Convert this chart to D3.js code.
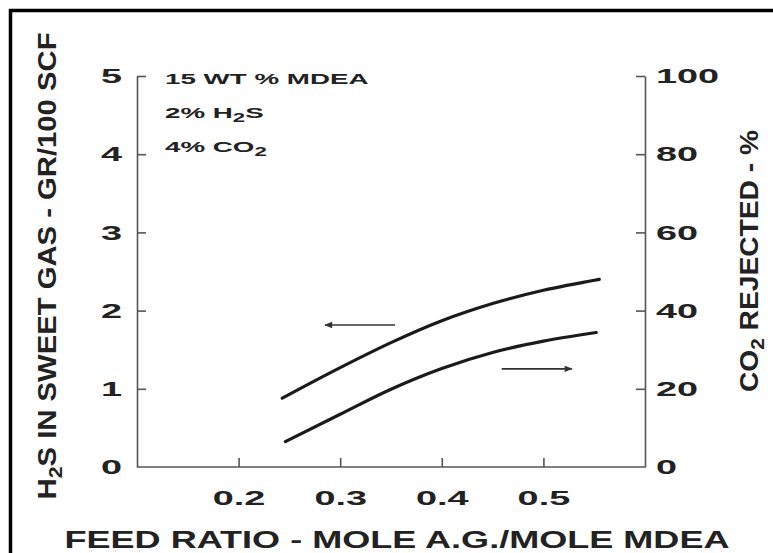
<!DOCTYPE html>
<meta charset="utf-8">
<style>

body {
  margin: 0;
  background: white;
}

text {
  font-family: "Liberation Sans", Arial, sans-serif;
  font-weight: bold;
  fill: #222;
}

.axis path,
.axis line {
  stroke: #555;
  stroke-width: 1.6px;
  fill: none;
}

.axis text {
  font-size: 21px;
}

.curve {
  fill: none;
  stroke: #1a1a1a;
  stroke-width: 3.2px;
  stroke-linecap: round;
}

.pointer {
  stroke: #333;
  stroke-width: 1.6px;
}

.frame {
  fill: none;
  stroke: #000;
  stroke-width: 3.5px;
}

</style>
<svg></svg>
<script src="https://d3js.org/d3.v7.min.js"></script>
<script>

var width = 773;
var height = 553;

// feed ratio, mole acid gas / mole MDEA
var h2sFeed = [0.243, 0.30, 0.35, 0.40, 0.45, 0.50, 0.555];
// H2S in sweet gas, gr/100 scf (left axis)
var h2sSweet = [0.88, 1.27, 1.59, 1.87, 2.09, 2.26, 2.40];

var co2Feed = [0.246, 0.30, 0.35, 0.40, 0.45, 0.50, 0.552];
// CO2 rejected, % (right axis)
var co2Rejected = [6.5, 13.5, 19.9, 25.2, 29.3, 32.2, 34.4];

var xTicks = [0.2, 0.3, 0.4, 0.5];
var leftTicks = [0, 1, 2, 3, 4, 5];
var rightTicks = [0, 20, 40, 60, 80, 100];

var notes = [
  ['15 WT % MDEA'],
  ['2% H', '2', 'S'],
  ['4% CO', '2']
];

var x = d3.scaleLinear().domain([0.1, 0.6]).range([137, 645]);
var yLeft = d3.scaleLinear().domain([0, 5]).range([467, 76]);
var yRight = d3.scaleLinear().domain([0, 100]).range([467, 76]);

var svg = d3.select('svg')
  .attr('width', width)
  .attr('height', height);

// widen text the way the scanned lettering looks
function stretch (sel, k) {
  sel.each(function () {
    var w = this.getComputedTextLength();
    d3.select(this).attr('textLength', w * k).attr('lengthAdjust', 'spacingAndGlyphs');
  });
}

svg.append('path')
  .attr('class', 'frame')
  .attr('d', 'M10.5,' + height + 'V10.5H' + width);

var gx = svg.append('g')
  .attr('class', 'axis')
  .attr('transform', 'translate(0,' + yLeft(0) + ')')
  .call(d3.axisBottom(x).tickValues(xTicks).tickSize(-9).tickSizeOuter(0).tickPadding(23)
    .tickFormat(d3.format('.1f')));

var gl = svg.append('g')
  .attr('class', 'axis')
  .attr('transform', 'translate(' + x.range()[0] + ',0)')
  .call(d3.axisLeft(yLeft).tickValues(leftTicks).tickSize(-9).tickSizeOuter(0).tickPadding(15)
    .tickFormat(d3.format('d')));

var gr = svg.append('g')
  .attr('class', 'axis')
  .attr('transform', 'translate(' + x.range()[1] + ',0)')
  .call(d3.axisRight(yRight).tickValues(rightTicks).tickSize(-9).tickSizeOuter(0).tickPadding(11)
    .tickFormat(d3.format('d')));

// no tick on the zero corner
gx.selectAll('.domain').attr('d', 'M' + x.range()[0] + ',0H' + x.range()[1]);
gl.selectAll('.tick').filter(function (d) { return d === 0; }).select('line').remove();
gr.selectAll('.tick').filter(function (d) { return d === 0; }).select('line').remove();

stretch(gx.selectAll('text'), 1.8);
stretch(gl.selectAll('text'), 1.8);
stretch(gr.selectAll('text'), 1.8);

var line1 = d3.line()
  .curve(d3.curveMonotoneX)
  .x(function (d, i) { return x(h2sFeed[i]); })
  .y(function (d) { return yLeft(d); });

var line2 = d3.line()
  .curve(d3.curveMonotoneX)
  .x(function (d, i) { return x(co2Feed[i]); })
  .y(function (d) { return yRight(d); });

svg.append('path').attr('class', 'curve').attr('d', line1(h2sSweet));
svg.append('path').attr('class', 'curve').attr('d', line2(co2Rejected));

// arrows telling which axis each curve reads on
svg.append('defs').append('marker')
  .attr('id', 'head')
  .attr('viewBox', '0 0 10 10')
  .attr('refX', 9).attr('refY', 5)
  .attr('markerWidth', 9).attr('markerHeight', 5)
  .attr('markerUnits', 'strokeWidth')
  .attr('orient', 'auto')
  .append('path')
  .attr('d', 'M0,1L10,5L0,9z')
  .attr('fill', '#333');

svg.append('line')
  .attr('class', 'pointer')
  .attr('x1', x(0.354)).attr('y1', yLeft(1.815))
  .attr('x2', x(0.285)).attr('y2', yLeft(1.815))
  .attr('marker-end', 'url(#head)');

svg.append('line')
  .attr('class', 'pointer')
  .attr('x1', x(0.459)).attr('y1', yRight(25.1))
  .attr('x2', x(0.528)).attr('y2', yRight(25.1))
  .attr('marker-end', 'url(#head)');

// conditions
var note = svg.append('g')
  .selectAll('text')
  .data(notes)
  .enter().append('text')
  .attr('x', 165)
  .attr('y', function (d, i) { return 84 + i * 34; })
  .style('font-size', '15px');

note.each(function (parts) {
  var t = d3.select(this);
  parts.forEach(function (p, j) {
    var s = t.append('tspan').text(p);
    if (j % 2 === 1) s.attr('dy', 4).style('font-size', '12px');
    else if (j > 0) s.attr('dy', -4);
  });
});
stretch(note, 1.85);

// axis titles
svg.append('text')
  .attr('x', 397)
  .attr('y', 548)
  .attr('text-anchor', 'middle')
  .attr('textLength', 665)
  .attr('lengthAdjust', 'spacingAndGlyphs')
  .style('font-size', '23px')
  .text('FEED RATIO - MOLE A.G./MOLE MDEA');

var lt = svg.append('text')
  .attr('transform', 'translate(56,266) rotate(-90)')
  .attr('text-anchor', 'middle')
  .attr('textLength', 467)
  .attr('lengthAdjust', 'spacingAndGlyphs')
  .style('font-size', '26px');
lt.append('tspan').text('H');
lt.append('tspan').attr('dy', 6).style('font-size', '19px').text('2');
lt.append('tspan').attr('dy', -6).text('S IN SWEET GAS - GR/100 SCF');

var rt = svg.append('text')
  .attr('transform', 'translate(758,261) rotate(-90)')
  .attr('text-anchor', 'middle')
  .attr('textLength', 262)
  .attr('lengthAdjust', 'spacingAndGlyphs')
  .style('font-size', '26px');
rt.append('tspan').text('CO');
rt.append('tspan').attr('dy', 6).style('font-size', '19px').text('2');
rt.append('tspan').attr('dy', -6).text(' REJECTED - %');

</script>
